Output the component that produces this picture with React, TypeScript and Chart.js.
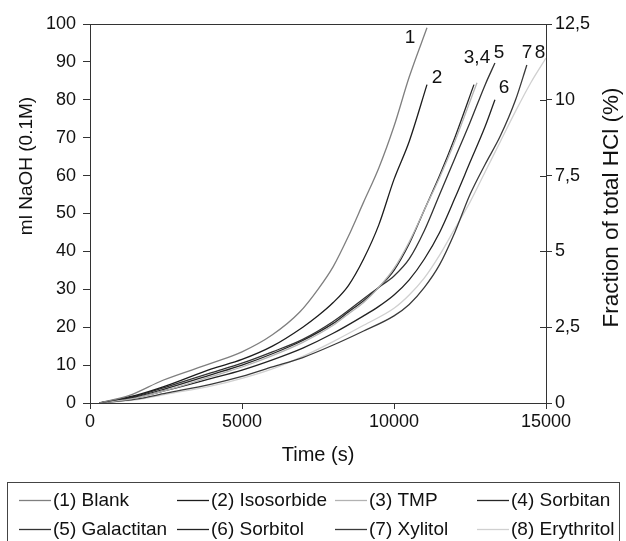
import { useEffect, useRef } from "react";
import { Chart, registerables } from "chart.js";

Chart.register(...registerables);

// ---------- data ----------
const seriesNames = [
  "(1) Blank",
  "(2) Isosorbide",
  "(3) TMP",
  "(4) Sorbitan",
  "(5) Galactitan",
  "(6) Sorbitol",
  "(7) Xylitol",
  "(8) Erythritol",
];
const seriesColors = ["#7f7f7f", "#1c1c1c", "#b2b2b2", "#262626", "#333333", "#222222", "#3a3a3a", "#d0d0d0"];

const blankTime = [300, 1300, 2400, 4000, 5000, 6000, 6900, 7500, 8000, 8500, 9000, 9500, 10000, 10500, 11085];
const blankMl = [0, 2, 6, 10.5, 13.5, 18, 24, 30, 36, 44, 53, 62, 73, 86, 99];

const isosorbideTime = [300, 1500, 2500, 4000, 5000, 6000, 7000, 7500, 8000, 8500, 9000, 9500, 10000, 10500, 11085];
const isosorbideMl = [0, 2, 4.5, 9, 11.5, 15, 20, 23, 26.5, 31, 38, 47, 59, 69, 84];

const tmpTime = [300, 1500, 2500, 4000, 5000, 6000, 7000, 8000, 8500, 9000, 9500, 10000, 10500, 11000, 11500, 12000, 12730];
const tmpMl = [0, 1.3, 3.3, 7, 9.5, 12.5, 16, 20.5, 23.5, 26.5, 30.5, 35.5, 42.5, 51, 59.5, 69, 84.5];

const sorbitanTime = [300, 1500, 2500, 4000, 5000, 6000, 7000, 8000, 8500, 9000, 9500, 10000, 10500, 11000, 11500, 12000, 12630];
const sorbitanMl = [0, 1.6, 3.8, 7.5, 10, 13, 16.5, 21, 24, 27, 30.5, 35, 42, 51, 60, 70, 84];

const galactitanTime = [300, 1500, 2500, 4000, 5000, 6000, 7000, 8000, 9000, 9500, 10000, 10500, 11000, 11500, 12000, 12500, 13000, 13320];
const galactitanMl = [0, 1.8, 4.2, 8, 10.5, 13.5, 16.8, 21.5, 27.5, 30.5, 33.5, 38, 45.5, 55, 64.5, 74, 84, 89.7];

const sorbitolTime = [300, 1500, 2500, 4000, 5000, 6000, 7000, 8000, 9000, 9500, 10000, 10500, 11000, 11500, 12000, 12500, 13000, 13320];
const sorbitolMl = [0, 1.4, 3.3, 6.5, 8.7, 11.4, 14.5, 18.4, 23, 25.5, 28.5, 32.5, 38, 45, 54, 63.5, 73, 80];

const xylitolTime = [300, 1500, 2500, 4000, 5000, 6000, 7000, 8000, 9000, 10000, 10500, 11000, 11500, 12000, 12500, 13000, 13500, 14000, 14370];
const xylitolMl = [0, 1, 2.6, 5, 7, 9.5, 12, 15.3, 19, 23, 26, 30.5, 36.5, 45, 55, 63, 70.5, 80, 89.2];

const erythritolTime = [300, 1500, 2500, 4000, 5000, 6000, 7000, 8000, 9000, 10000, 10500, 11000, 11500, 12000, 12500, 13000, 13500, 14000, 14500, 15000];
const erythritolMl = [0, 0.8, 2.3, 4.5, 6.5, 9, 12.3, 16.2, 20.5, 25, 28.5, 33, 39, 46, 53, 61, 69, 77, 84.5, 91];

const seriesTimes = [blankTime, isosorbideTime, tmpTime, sorbitanTime, galactitanTime, sorbitolTime, xylitolTime, erythritolTime];
const seriesValues = [blankMl, isosorbideMl, tmpMl, sorbitanMl, galactitanMl, sorbitolMl, xylitolMl, erythritolMl];

const curveLabels = ["1", "2", "3,4", "5", "6", "7", "8"];
const curveLabelTimes = [10526, 11414, 12730, 13454, 13618, 14380, 14800];
const curveLabelValues = [96.3, 85.8, 91, 92.3, 83.1, 92.3, 92.3];

const xTitle = "Time (s)";
const yTitle = "ml NaOH (0.1M)";
const y2Title = "Fraction of total HCl (%)";

const FONT = '"Liberation Sans", Arial, Helvetica, sans-serif';
const TEXT = "#111111";
const AXIS = "#333333";

const overlayPlugin = {
  id: "overlay",
  afterDraw(chart: any) {
    const { ctx, chartArea, scales } = chart;
    const { left, right, top, bottom } = chartArea;
    ctx.save();
    // top border
    ctx.strokeStyle = AXIS;
    ctx.lineWidth = 1;
    ctx.beginPath();
    ctx.moveTo(left, Math.round(top) + 0.5);
    ctx.lineTo(right + 0.5, Math.round(top) + 0.5);
    // inner ticks of the right axis
    const y2 = scales.y2;
    y2.ticks.forEach((_t: any, i: number) => {
      const py = Math.round(y2.getPixelForTick(i)) + 0.5;
      ctx.moveTo(Math.round(right) - 6, py);
      ctx.lineTo(Math.round(right), py);
    });
    ctx.stroke();

    ctx.fillStyle = TEXT;
    ctx.textAlign = "center";
    ctx.textBaseline = "middle";

    // left title
    ctx.save();
    ctx.font = `19px ${FONT}`;
    ctx.translate(27, top + 142);
    ctx.rotate(-Math.PI / 2);
    ctx.fillText(yTitle, 0, 0);
    ctx.restore();

    // right title
    ctx.save();
    ctx.font = `22.5px ${FONT}`;
    ctx.translate(612, (top + bottom) / 2 - 6);
    ctx.rotate(-Math.PI / 2);
    ctx.fillText(y2Title, 0, 0);
    ctx.restore();

    // curve number labels
    ctx.font = `19px ${FONT}`;
    const xs = scales.x;
    const ys = scales.y;
    curveLabels.forEach((lab, i) => {
      ctx.fillText(lab, xs.getPixelForValue(curveLabelTimes[i]), ys.getPixelForValue(curveLabelValues[i]));
    });

    // legend
    ctx.strokeStyle = "#444444";
    ctx.lineWidth = 1;
    ctx.strokeRect(7.5, 482.5, 612, 80);
    const colX = [19, 177, 335, 477];
    const rowY = [500, 529];
    ctx.font = `19px ${FONT}`;
    ctx.textAlign = "left";
    seriesNames.forEach((name, i) => {
      const cx = colX[i % 4];
      const cy = rowY[Math.floor(i / 4)];
      ctx.strokeStyle = seriesColors[i];
      ctx.lineWidth = 1.3;
      ctx.beginPath();
      ctx.moveTo(cx, cy + 0.5);
      ctx.lineTo(cx + 32, cy + 0.5);
      ctx.stroke();
      ctx.fillStyle = TEXT;
      ctx.fillText(name, cx + 34, cy + 1);
    });
    ctx.restore();
  },
};

export default function App() {
  const ref = useRef<HTMLCanvasElement | null>(null);

  useEffect(() => {
    if (!ref.current) return;
    const datasets = seriesNames.map((name, i) => ({
      label: name,
      data: seriesTimes[i].map((t, j) => ({ x: t, y: seriesValues[i][j] })),
      borderColor: seriesColors[i],
      backgroundColor: seriesColors[i],
      borderWidth: 1.3,
      pointRadius: 0,
      cubicInterpolationMode: "monotone" as const,
      fill: false,
      yAxisID: "y",
    }));
    const chart = new Chart(ref.current, {
      type: "line",
      data: { datasets },
      plugins: [overlayPlugin],
      options: {
        animation: false,
        responsive: false,
        maintainAspectRatio: false,
        layout: { padding: { left: 0, right: 0, top: 24, bottom: 68 } },
        plugins: { legend: { display: false }, tooltip: { enabled: false } },
        scales: {
          x: {
            type: "linear",
            min: 0,
            max: 15000,
            afterFit: (s: any) => {
              s.height = 70;
            },
            ticks: {
              stepSize: 5000,
              color: TEXT,
              font: { family: FONT, size: 18 },
              padding: 2,
              maxRotation: 0,
              callback: (v: any) => String(v),
            },
            grid: { drawOnChartArea: false, drawTicks: true, tickLength: 6, color: AXIS },
            border: { display: true, color: AXIS, width: 1 },
            title: {
              display: true,
              text: xTitle,
              color: TEXT,
              font: { family: FONT, size: 20 },
              padding: { top: 0, bottom: 6 },
            },
          },
          y: {
            type: "linear",
            position: "left",
            min: 0,
            max: 100,
            afterFit: (s: any) => {
              s.width = 90;
            },
            ticks: { stepSize: 10, color: TEXT, font: { family: FONT, size: 18 }, padding: 7 },
            grid: { drawOnChartArea: false, drawTicks: true, tickLength: 7, color: AXIS },
            border: { display: true, color: AXIS, width: 1 },
          },
          y2: {
            type: "linear",
            position: "right",
            min: 0,
            max: 12.5,
            afterFit: (s: any) => {
              s.width = 80;
            },
            ticks: {
              stepSize: 2.5,
              color: TEXT,
              font: { family: FONT, size: 18 },
              padding: 3,
              callback: (v: any) => String(v).replace(".", ","),
            },
            grid: { drawOnChartArea: false, drawTicks: true, tickLength: 6, color: AXIS },
            border: { display: true, color: AXIS, width: 1 },
          },
        },
      },
    });
    return () => chart.destroy();
  }, []);

  return (
    <div style={{ position: "fixed", left: 0, top: 0, width: 626, height: 541, background: "#fff" }}>
      <canvas ref={ref} width={626} height={541} style={{ display: "block", width: 626, height: 541 }} />
    </div>
  );
}
